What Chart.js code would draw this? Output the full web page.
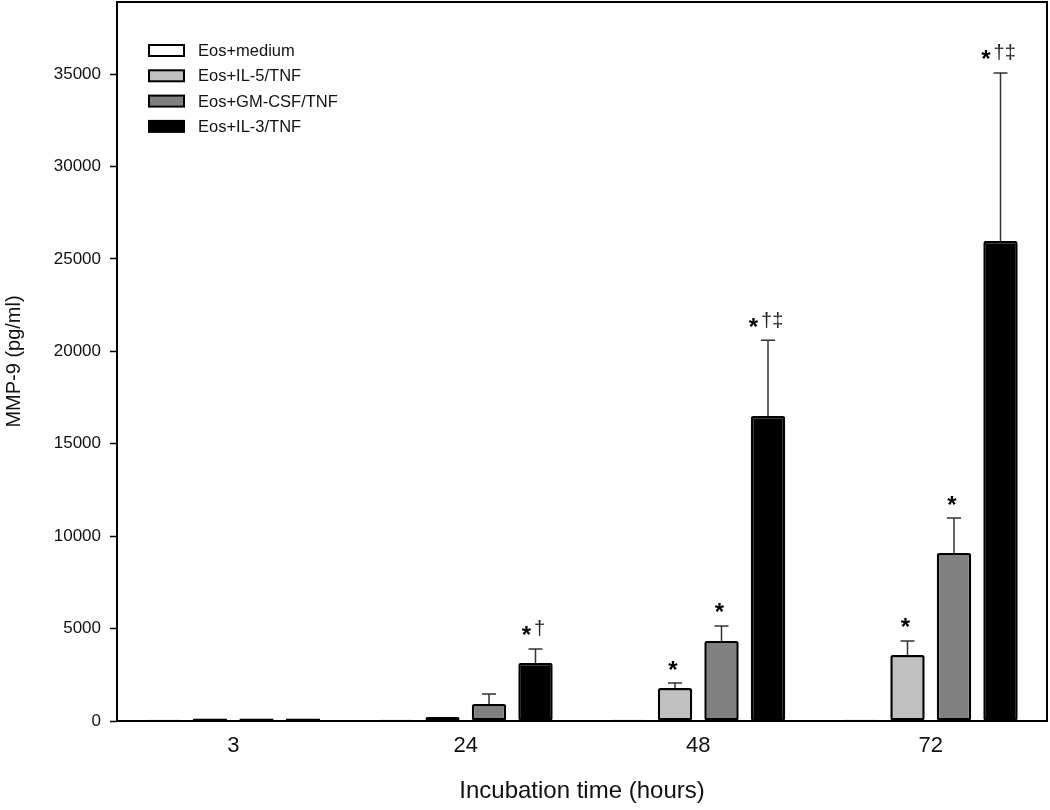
<!DOCTYPE html>
<html lang="en">
<head>
  <meta charset="UTF-8">
  <title>MMP-9 release by eosinophils</title>
  <script src="https://cdn.jsdelivr.net/npm/chart.js"></script>
  <style>
    body { margin: 0; background: #fff; }
    canvas { display: block; }
  </style>
</head>
<body>
  <canvas id="mmpChart" width="1050" height="810"></canvas>

  <script>
    // values (pg/ml)
    const hours = ['3', '24', '48', '72'];
    const groupNames = ['Eos+medium', 'Eos+IL-5/TNF', 'Eos+GM-CSF/TNF', 'Eos+IL-3/TNF'];

    const mediumVals = [70, 70, 70, 70];
    const il5Vals = [130, 210, 1780, 3570];
    const gmcsfVals = [130, 920, 4330, 9090];
    const il3Vals = [130, 3140, 16500, 25970];

    // upper error bars only
    const mediumErr = [0, 0, 0, 0];
    const il5Err = [0, 0, 270, 760];
    const gmcsfErr = [0, 540, 810, 1890];
    const il3Err = [0, 760, 4100, 9090];

    // significance marks above the bars
    const mediumMarks = ['', '', '', ''];
    const il5Marks = ['', '', '*', '*'];
    const gmcsfMarks = ['', '', '*', '*'];
    const il3Marks = ['', '*†', '*†‡', '*†‡'];

    const yTicks = [0, 5000, 10000, 15000, 20000, 25000, 30000, 35000];
    const yMax = 38900;

    const FONT = '"Liberation Sans", Arial, sans-serif';
    const fills = ['#ffffff', '#c0c0c0', '#808080', '#000000'];

    Chart.defaults.font.family = FONT;

    const makeSet = (i, data, errors, marks) => ({
      label: groupNames[i],
      data: data,
      errors: errors,
      marks: marks,
      backgroundColor: fills[i],
      borderColor: '#000',
      borderWidth: 2.5,
      borderRadius: 2,
      borderSkipped: false,
      barPercentage: 0.74,
      categoryPercentage: 0.8
    });

    // thin upward whiskers with a cap, then the marks
    const errorBars = {
      id: 'errorBars',
      afterDatasetsDraw(chart) {
        const ctx = chart.ctx, y = chart.scales.y;
        ctx.save();
        ctx.strokeStyle = '#333';
        ctx.lineWidth = 1.5;
        chart.data.datasets.forEach((ds, i) => {
          chart.getDatasetMeta(i).data.forEach((bar, j) => {
            const e = ds.errors[j];
            if (!e) return;
            const top = y.getPixelForValue(ds.data[j] + e);
            ctx.beginPath();
            ctx.moveTo(bar.x, bar.y);
            ctx.lineTo(bar.x, top);
            ctx.moveTo(bar.x - 7, top);
            ctx.lineTo(bar.x + 7, top);
            ctx.stroke();
          });
        });

        // star in bold, daggers thin
        chart.data.datasets.forEach((ds, i) => {
          chart.getDatasetMeta(i).data.forEach((bar, j) => {
            const mark = ds.marks[j];
            if (!mark) return;
            const top = y.getPixelForValue(ds.data[j] + ds.errors[j]);
            const mid = top - 19;
            const rest = mark.slice(1);
            ctx.font = 'bold 24px ' + FONT;
            const sw = ctx.measureText('*').width;
            ctx.font = '20px ' + FONT;
            const rw = rest ? ctx.measureText(rest).width + 3 : 0;
            const x0 = bar.x - 2 - (sw + rw) / 2;
            ctx.textAlign = 'left';
            ctx.textBaseline = 'alphabetic';
            ctx.fillStyle = '#000';
            ctx.font = 'bold 24px ' + FONT;
            ctx.fillText('*', x0, mid + 13.5);
            if (rest) {
              ctx.fillStyle = '#222';
              ctx.font = '20px ' + FONT;
              ctx.fillText(rest, x0 + sw + 3, mid + 5.5);
            }
          });
        });
        ctx.restore();
      }
    };

    // box around the plot + legend in the upper-left corner
    const frameAndLegend = {
      id: 'frameAndLegend',
      afterDraw(chart) {
        const ctx = chart.ctx, a = chart.chartArea;
        ctx.save();
        ctx.strokeStyle = '#000';
        ctx.lineWidth = 2;
        ctx.strokeRect(a.left, a.top, a.right - a.left, a.bottom - a.top);

        chart.data.datasets.forEach((ds, i) => {
          const cy = 50.5 + i * 25.3;
          ctx.fillStyle = ds.backgroundColor;
          ctx.fillRect(149, cy - 5.5, 35, 11);
          ctx.strokeStyle = '#000';
          ctx.lineWidth = 2;
          ctx.strokeRect(149, cy - 5.5, 35, 11);
          ctx.fillStyle = '#111';
          ctx.font = '16.5px ' + FONT;
          ctx.textAlign = 'left';
          ctx.textBaseline = 'middle';
          ctx.fillText(ds.label, 198, cy + 1);
        });
        ctx.restore();
      }
    };

    new Chart(document.getElementById('mmpChart'), {
      type: 'bar',
      data: {
        labels: hours,
        datasets: [
          makeSet(0, mediumVals, mediumErr, mediumMarks),
          makeSet(1, il5Vals, il5Err, il5Marks),
          makeSet(2, gmcsfVals, gmcsfErr, gmcsfMarks),
          makeSet(3, il3Vals, il3Err, il3Marks)
        ]
      },
      options: {
        responsive: false,
        animation: false,
        devicePixelRatio: 1,
        layout: { padding: { top: 2, right: 3, left: 0, bottom: 0 } },
        plugins: {
          legend: { display: false },
          tooltip: { enabled: false }
        },
        scales: {
          x: {
            grid: { display: false, drawTicks: false },
            border: { display: false },
            ticks: { font: { size: 22 }, color: '#111', padding: 12 },
            title: {
              display: true,
              text: 'Incubation time (hours)',
              font: { size: 24 },
              color: '#111',
              padding: { top: 0, bottom: 4 }
            },
            afterFit(s) { s.height = 89; s.paddingLeft = 0; s.paddingRight = 0; }
          },
          y: {
            min: 0,
            max: yMax,
            afterBuildTicks(s) { s.ticks = yTicks.map(v => ({ value: v })); },
            grid: { drawOnChartArea: false, tickLength: 7, tickColor: '#000', tickWidth: 1.5 },
            border: { display: false },
            ticks: { font: { size: 17 }, color: '#111', padding: 9, callback: v => String(v) },
            title: {
              display: true,
              text: 'MMP-9 (pg/ml)',
              font: { size: 20 },
              color: '#111',
              padding: { top: 2, bottom: 0 }
            },
            afterFit(s) { s.width = 117; s.paddingTop = 0; s.paddingBottom = 0; }
          }
        }
      },
      plugins: [errorBars, frameAndLegend]
    });
  </script>
</body>
</html>
